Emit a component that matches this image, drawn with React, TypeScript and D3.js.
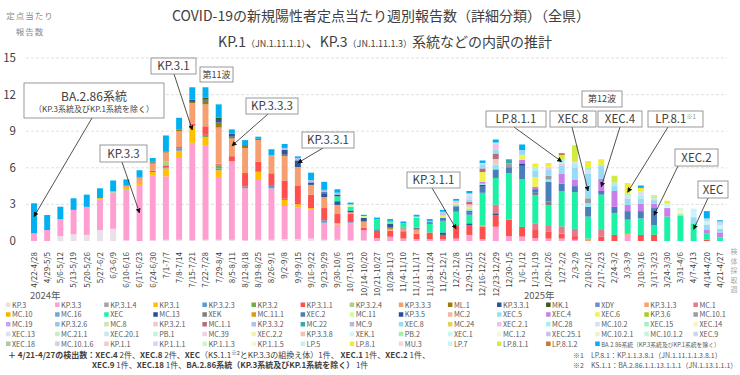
import React from 'react';
import * as d3 from 'd3';

const weeks = [
  '4/22-4/28','4/29-5/5','5/6-5/12','5/13-5/19','5/20-5/26','5/27-6/2','6/3-6/9','6/10-6/16','6/17-6/23','6/24-6/30',
  '7/1-7/7','7/8-7/14','7/15-7/21','7/22-7/28','7/29-8/4','8/5-8/11','8/12-8/18','8/19-8/25','8/26-9/1','9/2-9/8',
  '9/9-9/15','9/16-9/22','9/23-9/29','9/30-10/6','10/7-10/13','10/14-10/20','10/21-10/27','10/28-11/3','11/4-11/10','11/11-11/17',
  '11/18-11/24','11/25-12/1','12/2-12/8','12/9-12/15','12/16-12/22','12/23-12/29','12/30-1/5','1/6-1/12','1/13-1/19','1/20-1/26',
  '1/27-2/2','2/3-2/9','2/10-2/16','2/17-2/23','2/24-3/2','3/3-3/9','3/10-3/16','3/17-3/23','3/24-3/30','3/31-4/6',
  '4/7-4/13','4/14-4/20','4/21-4/27'
];

const seriesNames = [
  'KP.3','KP.3.3','KP.3.1.4','KP.3.1','KP.3.2.3','KP.3.2','KP.3.1.1','KP.3.2.4','KP.3.3.3','ML.1','KP.3.3.1','MK.1','XDY','KP.3.1.3','MC.1',
  'MC.10','MC.16','XEC','MC.13','XEK','MC.11.1','XEC.2','MC.11','KP.3.5','MC.2','XEC.5','XEC.4','XEC.6','KP.3.6','MC.10.1',
  'MC.19','KP.3.2.6','MC.8','KP.3.2.1','MC.1.1','KP.3.3.2','MC.22','MC.9','XEC.8','MC.24','XEC.2.1','MC.28','MC.10.2','XEC.15','XEC.14',
  'XEC.13','MC.21.1','XEC.20.1','PB.1','MC.39','XEC.2.2','KP.3.3.8','XEK.1','PB.2','XEC.1','MC.1.2','XEC.25.1','MC.10.2.1','MC.10.1.2','XEC.9',
  'XEC.18','MC.10.1.6','KP.1.1','KP.1.1.1','KP.1.1.3','KP.1.1.5','LP.5','LP.8.1','MU.3','LP.7','LP.8.1.1','LP.8.1.2','BA.2.86系統（KP.3系統及びKP.1系統を除く）'
];

const seriesColors = [
  '#E9E0E8','#FF9FD1','#A5A5A5','#FFC000','#5B9BD5','#70AD47','#FF4F4F','#A9D18E','#F6A072','#9C7A0C','#2E5597','#3A5A1E','#6E8FD0','#F8A070','#E57A8C',
  '#F2B800','#6FA7DC','#1CF2A6','#27508F','#7F7F7F','#D4A10A','#4A7EBB','#CCFF99','#2B4C9E','#F1B7A0','#8DE6F6','#C97FEA','#F2F24C','#A6CE1E','#9C9C9C',
  '#C5A5EE','#9DC3E6','#C8E6B9','#F4C8C2','#B46E7E','#A7C3F0','#35A9B1','#B3B9DF','#98DBF6','#E6D05A','#F0C3E4','#A9EFF0','#D7DFF0','#A6F0C6','#F6F6BF',
  '#DCE3EE','#C6EFBF','#C7E6F7','#C3F3DE','#F6CDE6','#F1F1B3','#F3C1B1','#D1F7F8','#A9EFA2','#C8F7F7','#F7F7DA','#C8C1F0','#F7EFC9','#C1F6E0','#C9D7F0',
  '#AFC6A6','#D1D1E6','#F6C8D0','#DFD0F0','#D0F4D0','#F7F7D2','#C7EFF7','#EEEE38','#F6D6D6','#C8F3FA','#D3EB3E','#C57733','#00B0F0'
];

const yTicks = [0, 3, 6, 9, 12, 15];

// weekly values per lineage (定点当たり)
const KP_3 = [0,0,0.4,0.55,0.5,0.9,1.0,0.05,0,0.05, 0.1,0.1,0.05,0.1,0.1,0.1,0.05,0.1,0.1,0.15, 0.16,0.2,0.1,0.1,0.05,0.05,0,0,0,0, 0,0,0,0,0,0,0,0,0,0, 0,0,0,0,0,0,0,0,0,0, 0,0,0];
const KP_3_3 = [0.63,0.9,1.38,2.0,2.3,2.52,2.96,4.1,4.55,5.35, 5.2,6.7,8.0,7.7,5.15,6.45,4.27,4.9,4.22,2.72, 2.6,2.4,1.4,1.26,1.45,0.85,0.22,0.35,0.2,0.15, 0.15,0.15,0.2,0.5,0.15,1.17,0.4,0.36,0.22,0.2, 0.2,0.1,0,0,0,0.5,0,0,0,0, 0,0,0];
const KP_3_1_4 = [0,0,0,0,0,0,0,0.08,0.05,0, 0,0,0,0,0,0,0,0,0,0, 0,0,0,0,0,0,0,0,0,0, 0,0,0,0,0,0,0,0,0,0, 0,0,0,0,0,0,0,0,0,0, 0,0,0];
const KP_3_1 = [0,0,0,0,0,0.1,0,0.12,0.2,0.25, 0.65,0.6,1.35,0.7,0.55,0,0,0.68,0,0.49, 0.25,0.1,0,0.1,0,0,0,0,0,0, 0,0,0,0,0,0,0,0,0,0, 0,0,0,0,0,0,0,0,0,0, 0,0,0];
const KP_3_2_3 = [0,0,0,0,0,0,0,0,0,0, 0.1,0.2,0.1,0,0.15,0,0.15,0,0.27,0, 0,0,0.2,0,0.05,0,0,0,0,0, 0,0,0,0,0,0,0,0,0,0, 0,0,0,0,0,0,0,0,0,0, 0,0,0];
const KP_3_2 = [0,0,0,0,0,0,0,0.05,0,0, 0,0,0,0.2,0.25,0,0,0,0,0.1, 0,0,0,0,0,0,0,0,0,0, 0,0,0,0,0,0,0,0,0,0, 0,0,0,0,0,0,0,0,0,0, 0,0,0];
const KP_3_1_1 = [0,0,0,0,0,0,0,0,0.05,0.1, 0.15,0.1,0.1,0.7,0.1,0.4,1.1,0.82,0.96,1.5, 1.55,1.1,1.0,0.75,0.7,0.2,0.55,0.5,0.6,0.45, 0.55,0.35,1.1,0.8,1.0,0.95,1.35,0.8,0.68,0.55, 0.4,0.3,0,0.35,0.5,0,0.5,0.5,0,0, 0,0.1,0];
const KP_3_2_4 = [0,0,0,0,0,0,0.1,0,0,0, 0.3,0,0,0,0.05,0,0,0,0,0, 0,0,0,0,0,0,0,0,0,0, 0,0,0,0,0,0,0,0,0,0, 0,0,0,0,0,0,0,0,0,0, 0,0,0];
const KP_3_3_3 = [0,0,0,0,0,0,0,0.1,0.35,0.6, 0.75,1.3,1.7,1.8,2.95,1.45,2.05,1.78,1.5,2.0, 1.5,0.8,0.9,0.75,0.1,0.5,0,0.15,0.15,0.35, 0,0,0,0,0,0,0,0,0,0, 0,0,0,0,0,0,0,0,0,0, 0,0,0];
const ML_1 = [0,0,0,0,0,0,0,0.05,0.05,0.1, 0.1,0.15,0.1,0.3,0.4,0.15,0.25,0.1,0,0.12, 0,0,0,0,0,0,0,0.1,0,0, 0,0,0,0,0,0,0,0,0,0, 0,0,0,0,0,0,0,0,0,0, 0,0,0];
const KP_3_3_1 = [0,0,0,0,0,0,0,0,0,0.05, 0,0,0.2,0.1,0.3,0.25,0,0,0,0.4, 0.55,0.2,0.3,0.3,0.15,0.3,0.1,0.3,0,0.1, 0,0.2,0,0.15,0,0.15,0,0,0,0, 0,0,0,0,0,0,0,0,0,0, 0,0,0];
const MK_1 = [0,0,0,0,0,0,0,0,0,0, 0,0,0,0.15,0.1,0,0,0,0,0, 0,0,0,0,0,0,0,0,0,0, 0,0,0,0,0,0,0,0,0,0, 0,0,0,0,0,0,0,0,0,0, 0,0,0];
const XDY = [0,0,0,0,0,0,0,0,0,0, 0,0,0,0,0,0,0,0,0,0, 0,0,0,0,0,0,0.1,0,0.1,0, 0,0,0,0,0,0,0,0,0,0, 0,0,0,0,0,0,0,0,0,0, 0,0,0];
const KP_3_1_3 = [0,0,0,0,0,0,0,0,0,0, 0,0,0,0,0,0,0,0,0,0, 0,0,0,0,0,0,0,0,0,0.1, 0,0,0,0,0.1,0,0,0,0,0, 0,0,0.2,0,0,0.15,0,0,0,0, 0,0,0];
const MC_1 = [0,0,0,0,0,0,0,0,0,0, 0,0,0,0,0,0,0,0,0,0, 0,0,0,0,0,0,0,0,0,0, 0,0,0,0,0,0.7,0,0,0.55,0.55, 0.6,0.6,0,0.55,0,0,0,0,0,0, 0,0,0];
const MC_10 = [0,0,0,0,0,0,0,0,0,0, 0,0,0,0,0,0,0,0,0,0, 0,0,0,0,0,0,0,0.1,0.1,0, 0,0,0,0,0,0,0,0,0,0, 0,0,0,0,0,0,0,0,0,0, 0,0,0];
const XEC = [0,0,0,0,0,0,0,0,0,0, 0,0,0,0,0,0,0,0,0,0, 0,0,0,0.4,0.3,0,0.8,0.15,0.3,0.75, 0.7,0.95,1.1,0.7,2.7,2.2,3.8,3.9,2.3,1.64, 2.9,3.0,1.8,2.9,1.8,1.1,1.35,0.8,2.0,2.1, 1.45,0.5,0.3];
const MC_13 = [0,0,0,0,0,0,0,0,0,0, 0,0,0,0,0,0,0,0,0,0, 0,0,0,0,0,0,0,0,0,0, 0.05,0,0,0,0,0,0,0,0,0, 0,0,0,0,0,0,0,0,0,0, 0,0,0];
const XEK = [0,0,0,0,0,0,0,0,0,0, 0,0,0,0,0,0,0,0,0,0, 0,0,0,0,0,0,0,0,0,0, 0,0,0,0,0,0,0,0,0.2,0.3, 0,0,0,0,0,0,0,0,0,0, 0,0,0];
const XEC_2 = [0,0,0,0,0,0,0,0,0,0, 0,0,0,0,0,0,0,0,0,0, 0,0,0,0,0,0,0,0,0,0, 0.1,0.25,0.45,0.2,0.5,0.7,0.5,1.1,0.3,1.6, 0.6,0.5,0.8,0.3,0.5,0.7,0.6,1.4,0,0, 0,0,0];
const MC_11 = [0,0,0,0,0,0,0,0,0,0, 0,0,0,0,0,0,0,0,0,0, 0,0,0,0,0.2,0.15,0,0,0,0, 0,0,0,0,0,0,0,0,0,0, 0,0,0,0,0,0,0,0,0,0, 0,0,0];
const KP_3_5 = [0,0,0,0,0,0,0,0,0,0, 0,0,0,0,0,0,0,0,0,0, 0,0,0.1,0.15,0,0,0,0,0,0, 0,0,0,0.1,0.15,0,0,0.2,0,0, 0,0,0,0,0,0,0,0,0,0, 0,0,0];
const XEC_5 = [0,0,0,0,0,0,0,0,0,0, 0,0,0,0,0,0,0,0,0,0, 0,0,0,0,0,0,0,0,0,0, 0,0,0.15,0.2,0.1,0.4,0,0,0,0.2, 0,0,0.3,0,0,0,0,0,0,0, 0,0,0];
const XEC_4 = [0,0,0,0,0,0,0,0,0,0, 0,0,0,0,0,0,0,0,0,0, 0,0,0,0,0,0,0,0,0,0, 0,0,0,0,0.15,0,0,0.3,0.2,0, 0.8,0.5,0,1.0,1.3,0.5,0.6,0.35,0.7,0, 0,0.3,0.4];
const XEC_6 = [0,0,0,0,0,0,0,0,0,0, 0,0,0,0,0,0,0,0,0,0, 0,0,0,0,0,0,0,0,0,0, 0,0.2,0.1,0.15,0.8,0,0,0.4,0.8,0, 0,0,0,0,0,0,0,0,0,0, 0,0,0];
const MC_10_1 = [0,0,0,0,0,0,0,0,0,0, 0,0,0,0,0,0,0,0,0,0, 0,0,0,0,0,0,0,0,0,0, 0,0,0,0,0,0,0.3,0,0,0.3, 0,0,0.4,0,0,0,0,0,0,0, 0,0,0];
const MC_19 = [0,0,0,0,0,0,0,0,0,0, 0,0,0,0,0,0,0,0,0,0, 0,0,0,0,0,0,0,0,0,0, 0.1,0.1,0,0,0,0,0,0,0,0, 0,0,0,0,0,0,0,0,0,0, 0,0,0];
const KP_3_2_1 = [0,0,0,0,0,0,0,0,0,0, 0,0,0,0,0,0,0,0,0,0, 0,0,0,0,0,0,0,0,0,0.1, 0,0,0.1,0.2,0,0.45,0,0,0,0, 0,0,0,0,0,0,0,0,0,0, 0,0,0];
const MC_1_1 = [0,0,0,0,0,0,0,0,0,0, 0,0,0,0,0,0,0,0,0,0, 0,0,0,0,0,0,0,0,0,0, 0,0,0,0.2,0.3,0.45,0,0,0,0, 0,0,0,0,0,0,0,0,0,0, 0,0,0];
const KP_3_3_2 = [0,0,0,0,0,0,0,0,0,0, 0,0,0,0,0,0,0,0,0,0.15, 0.2,0.2,0.15,0.15,0,0,0,0,0,0, 0,0,0,0,0,0,0,0,0,0, 0,0,0,0,0,0,0,0,0,0, 0,0,0];
const MC_22 = [0,0,0,0,0,0,0,0,0,0, 0,0,0,0,0,0,0,0,0,0, 0,0,0.1,0,0,0,0,0,0,0, 0,0,0,0,0,0,0.35,0,0,0, 0,0,0,0,0,0,0,0,0,0, 0,0,0];
const XEC_8 = [0,0,0,0,0,0,0,0,0,0, 0,0,0,0,0,0,0,0,0,0, 0,0,0,0,0,0,0,0,0,0, 0,0.2,0,0.2,0.35,0.3,0,0.4,0.5,0.5, 0.7,1.0,2.0,1.1,0.4,0.5,0.4,0.3,0,0, 0.5,0.45,0.3];
const XEC_2_1 = [0,0,0,0,0,0,0,0,0,0, 0,0,0,0,0,0,0,0,0,0, 0,0,0,0,0,0,0,0,0,0, 0,0,0.1,0.15,0,0.5,0,0,0,0.15, 0.15,0,0,0,0,0,0,0,0,0, 0,0,0];
const MC_28 = [0,0,0,0,0,0,0,0,0,0, 0,0,0,0,0,0,0,0,0,0, 0,0,0,0,0,0,0,0,0,0, 0,0,0,0.15,0,0.1,0,0,0.3,0.1, 0.3,0.3,0,0,0.3,0,0.3,0,0,0, 0,0,0];
const MC_10_2 = [0,0,0,0,0,0,0,0,0,0, 0,0,0,0,0,0,0,0,0,0, 0,0,0,0,0,0,0,0,0,0, 0,0,0,0,0,0,0,0,0,0, 0,0.2,0.3,0,0,0.3,0.3,0.15,0,0, 0,0,0];
const XEC_15 = [0,0,0,0,0,0,0,0,0,0, 0,0,0,0,0,0,0,0,0,0, 0,0,0,0,0,0,0,0,0,0, 0,0,0,0,0,0,0,0,0,0, 0,0,0.25,0,0,0.15,0,0.15,0,0.15, 0,0,0];
const XEC_14 = [0,0,0,0,0,0,0,0,0,0, 0,0,0,0,0,0,0,0,0,0, 0,0,0,0,0,0,0,0,0,0, 0,0,0,0,0,0,0,0,0,0, 0,0,0,0,0,0,0,0,0.1,0.3, 0,0,0];
const PB_1 = [0,0,0,0,0,0,0,0,0,0, 0,0,0,0,0,0,0,0,0,0, 0,0,0,0,0,0,0,0,0,0, 0,0,0,0.1,0,0,0,0,0,0, 0,0,0,0,0,0,0,0,0,0, 0,0,0];
const MC_39 = [0,0,0,0,0,0,0,0,0,0, 0,0,0,0,0,0,0,0,0,0, 0,0,0,0,0,0,0,0,0,0, 0,0,0,0.1,0.1,0,0,0,0,0, 0,0,0,0,0,0,0,0,0,0, 0,0,0];
const XEC_1 = [0,0,0,0,0,0,0,0,0,0, 0,0,0,0,0,0,0,0,0,0, 0,0,0,0,0,0,0,0,0,0, 0,0,0,0,0,0,0,0,0,0, 0,0,0,0,0,0,0,0,0.25,0.15, 0.4,0.3,0.3];
const XEC_9 = [0,0,0,0,0,0,0,0,0,0, 0,0,0,0,0,0,0,0,0,0, 0,0,0,0,0,0,0,0,0,0, 0,0,0,0,0,0,0,0,0,0, 0,0,0,0,0,0,0,0,0,0, 0,0.2,0.3];
const LP_7 = [0,0,0,0,0,0,0,0,0,0, 0,0,0,0,0,0,0,0,0,0, 0,0,0,0,0,0,0,0,0,0, 0,0,0,0,0,0,0,0,0,0, 0,0,0,0,0,0,0,0,0,0, 0.3,0,0];
const LP_8_1 = [0,0,0,0,0,0,0,0,0,0, 0,0,0,0,0,0,0,0,0,0, 0,0,0,0,0,0,0,0,0,0, 0,0,0,0,0,0,0,0,0.3,0.3, 0,0,0.5,0.5,0,0.85,0.3,0,0.25,0, 0,0,0];
const LP_8_1_1 = [0,0,0,0,0,0,0,0,0,0, 0,0,0,0,0,0,0,0,0,0, 0,0,0,0,0,0,0,0,0,0, 0,0,0,0,0,0,0,0,0,0, 0.4,1.35,0,0,0.55,0,0,0.1,0,0, 0,0,0];
const LP_8_1_2 = [0,0,0,0,0,0,0,0,0,0, 0,0,0,0,0,0,0,0,0,0, 0,0,0,0,0,0,0,0,0,0, 0,0,0,0,0,0,0,0,0,0, 0.15,0,0,0,0,0,0,0,0,0, 0,0,0];
const BA_2_86 = [2.46,1.23,1.03,0.95,1.0,0.8,0.9,0.5,0.55,0.3, 1.3,0.95,1.0,0.85,1.1,0.35,0.4,0.17,0.47,0.32, 0.13,0.6,0.6,0.28,0.15,0.1,0.15,0.15,0.15,0.15, 0.15,0.15,0.15,0.2,0.2,0.25,0,0.45,0,0, 0,0,0,0,0,0,0.2,0,0,0, 0,0.6,0.1];

const seriesValues: Record<string, number[]> = {
  'KP.3': KP_3, 'KP.3.3': KP_3_3, 'KP.3.1.4': KP_3_1_4, 'KP.3.1': KP_3_1, 'KP.3.2.3': KP_3_2_3, 'KP.3.2': KP_3_2,
  'KP.3.1.1': KP_3_1_1, 'KP.3.2.4': KP_3_2_4, 'KP.3.3.3': KP_3_3_3, 'ML.1': ML_1, 'KP.3.3.1': KP_3_3_1, 'MK.1': MK_1,
  'XDY': XDY, 'KP.3.1.3': KP_3_1_3, 'MC.1': MC_1, 'MC.10': MC_10, 'XEC': XEC, 'MC.13': MC_13, 'XEK': XEK,
  'XEC.2': XEC_2, 'MC.11': MC_11, 'KP.3.5': KP_3_5, 'XEC.5': XEC_5, 'XEC.4': XEC_4, 'XEC.6': XEC_6, 'MC.10.1': MC_10_1,
  'MC.19': MC_19, 'KP.3.2.1': KP_3_2_1, 'MC.1.1': MC_1_1, 'KP.3.3.2': KP_3_3_2, 'MC.22': MC_22, 'XEC.8': XEC_8,
  'XEC.2.1': XEC_2_1, 'MC.28': MC_28, 'MC.10.2': MC_10_2, 'XEC.15': XEC_15, 'XEC.14': XEC_14, 'PB.1': PB_1,
  'MC.39': MC_39, 'XEC.1': XEC_1, 'XEC.9': XEC_9, 'LP.7': LP_7, 'LP.8.1': LP_8_1, 'LP.8.1.1': LP_8_1_1,
  'LP.8.1.2': LP_8_1_2, 'BA.2.86系統（KP.3系統及びKP.1系統を除く）': BA_2_86,
};

const FONT = "'Noto Sans CJK JP', 'Noto Sans', sans-serif";
const TXT = '#404040';

type Ann = { label: string; sup?: string; box: [number, number, number, number]; from?: [number, number]; week?: number; value?: number; size?: number };
const annotations: Ann[] = [
  { label: 'KP.3.3', box: [100, 145, 47, 17], from: [122, 162], week: 8, value: 2.3 },
  { label: 'KP.3.1', box: [151, 58, 45, 16], from: [174, 74], week: 12, value: 9.1 },
  { label: '第11波', box: [200, 67, 33, 15], size: 9 },
  { label: 'KP.3.3.3', box: [246, 98, 52, 16], from: [268, 114], week: 15, value: 7.8 },
  { label: 'KP.3.3.1', box: [302, 132, 52, 16], from: [323, 148], week: 20, value: 6.4 },
  { label: 'KP.3.1.1', box: [407, 172, 53, 16], from: [432, 188], week: 32, value: 1.0 },
  { label: '第12波', box: [582, 91, 40, 16], size: 9 },
  { label: 'LP.8.1.1', box: [486, 111, 60, 16], from: [514, 127], week: 40, value: 6.5 },
  { label: 'XEC.8', box: [550, 111, 46, 16], from: [572, 127], week: 42, value: 4.1 },
  { label: 'XEC.4', box: [598, 111, 44, 16], from: [620, 127], week: 43, value: 4.45 },
  { label: 'LP.8.1', sup: '※1', box: [648, 111, 55, 16], from: [668, 127], week: 45, value: 4.0 },
  { label: 'XEC.2', box: [675, 149, 43, 17], from: [678, 166], week: 47, value: 2.1 },
  { label: 'XEC', box: [698, 181, 30, 17], from: [708, 198], week: 50, value: 0.95 },
];

export default function App() {
  const x = d3.scaleBand<string>().domain(weeks).range([27.4, 726.6]).paddingInner(0.55).paddingOuter(0.275);
  const y = d3.scaleLinear().domain([0, 15]).range([241, 58]);
  const rows = weeks.map((w, i) => {
    const r: any = { week: w };
    seriesNames.forEach((n) => { r[n] = seriesValues[n] ? seriesValues[n][i] : 0; });
    return r;
  });
  const stacked = d3.stack<any>().keys(seriesNames)(rows);
  const bw = x.bandwidth();
  const cx = (i: number) => (x(weeks[i]) as number) + bw / 2;

  return (
    <svg width={740} height={375} style={{ position: 'absolute', left: 0, top: 0, background: '#fff' }} fontFamily={FONT}>
      <defs>
        <marker id="ah" viewBox="0 0 10 10" refX="9" refY="5" markerWidth="5" markerHeight="5" markerUnits="userSpaceOnUse" orient="auto">
          <path d="M0,0 L10,5 L0,10 z" fill="#111" />
        </marker>
      </defs>
      {/* titles */}
      <text x={381} y={21} textAnchor="middle" fontSize={14} fill={TXT}>COVID-19の新規陽性者定点当たり週別報告数（詳細分類）（全県）</text>
      <text x={385} y={47} textAnchor="middle" fontSize={14} fill={TXT}>
        <tspan>KP.1</tspan><tspan fontSize={9}>（JN.1.11.1.1）</tspan><tspan>、KP.3</tspan><tspan fontSize={9}>（JN.1.11.1.3）</tspan><tspan>系統などの内訳の推計</tspan>
      </text>
      <text x={30} y={19} textAnchor="middle" fontSize={8.5} fill="#8c8c8c" letterSpacing={1}>定点当たり</text>
      <text x={30} y={35} textAnchor="middle" fontSize={8.5} fill="#8c8c8c" letterSpacing={1}>報告数</text>

      {/* grid + y ticks */}
      {yTicks.map((t) => (
        <g key={t}>
          {t > 0 && <line x1={26} x2={727} y1={y(t)} y2={y(t)} stroke="#d9d9d9" strokeDasharray="3,2" strokeWidth={0.8} />}
          <text x={16} y={y(t) + 4} textAnchor="end" fontSize={11.5} fill={TXT}>{t}</text>
        </g>
      ))}

      {/* bars */}
      {stacked.map((layer, li) => (
        <g key={layer.key} fill={seriesColors[li]}>
          {layer.map((d, i) => (d[1] - d[0] > 0 ? (
            <rect key={i} x={x(weeks[i])} y={y(d[1])} width={bw} height={y(d[0]) - y(d[1])} />
          ) : null))}
        </g>
      ))}

      {/* x labels */}
      {weeks.map((w, i) => (
        <text key={w} transform={`translate(${cx(i)},252) rotate(-90)`} textAnchor="end" dy="0.35em" fontSize={8} fill={TXT}>{w}</text>
      ))}
      {'検体採取週'.split('').map((c, i) => (
        <text key={i} x={734} y={254 + i * 9.6} textAnchor="middle" fontSize={7} fill="#a6a6a6">{c}</text>
      ))}
      <text x={30} y={298.5} fontSize={9.5} fill="#595959">2024年</text>
      <text x={524} y={298.5} fontSize={9.5} fill="#595959">2025年</text>

      {/* annotations */}
      <g>
        <rect x={24} y={83} width={140} height={35} fill="#fff" stroke="#7f7f7f" strokeWidth={0.8} />
        <text x={94} y={101} textAnchor="middle" fontSize={12} fill={TXT}>BA.2.86系統</text>
        <text x={94} y={112} textAnchor="middle" fontSize={8} fill={TXT}>（KP.3系統及びKP.1系統を除く）</text>
        <line x1={92} y1={118} x2={cx(0)} y2={y(2.0)} stroke="#262626" strokeWidth={0.8} markerEnd="url(#ah)" />
      </g>
      {annotations.map((a) => (
        <g key={a.label}>
          {a.from && a.week !== undefined && (
            <line x1={a.from[0]} y1={a.from[1]} x2={cx(a.week)} y2={y(a.value as number)} stroke="#262626" strokeWidth={0.8} markerEnd="url(#ah)" />
          )}
          <rect x={a.box[0]} y={a.box[1]} width={a.box[2]} height={a.box[3]} fill="#fff" stroke="#7f7f7f" strokeWidth={0.8} />
          <text x={a.box[0] + a.box[2] / 2} y={a.box[1] + a.box[3] / 2} dy="0.36em" textAnchor="middle" fontSize={a.size || 11.5} fill={TXT}>
            {a.label}{a.sup && <tspan fontSize={6} dy={-4} fill="#8c8c8c">{a.sup}</tspan>}
          </text>
        </g>
      ))}

      {/* legend */}
      {seriesNames.map((n, k) => {
        const col = k % 15, row = Math.floor(k / 15);
        const lx = 6 + 49.1 * col, ly = 305 + 9.75 * row;
        const long = n.length > 12;
        return (
          <g key={n}>
            <rect x={lx} y={ly - 2.5} width={4.5} height={4.5} fill={seriesColors[k]} />
            <text x={lx + 6} y={ly + 2.6} fontSize={long ? 5.8 : 7.2} fill="#595959">{n}</text>
          </g>
        );
      })}

      {/* notes */}
      <text x={8} y={358} fontSize={8} fill={TXT}>
        <tspan fontWeight="bold">＋ 4/21-4/27の検出数：XEC.4</tspan><tspan> 2件、</tspan>
        <tspan fontWeight="bold">XEC.8</tspan><tspan> 2件、</tspan>
        <tspan fontWeight="bold">XEC</tspan><tspan>（KS.1.1</tspan><tspan fontSize={5.5} dy={-3}>※2</tspan><tspan dy={3}>とKP.3.3の組換え体）1件、 </tspan>
        <tspan fontWeight="bold">XEC.1</tspan><tspan> 1件、</tspan>
        <tspan fontWeight="bold">XEC.2</tspan><tspan> 1件、</tspan>
      </text>
      <text x={92} y={368} fontSize={8} fill={TXT}>
        <tspan fontWeight="bold">XEC.9</tspan><tspan> 1件、</tspan>
        <tspan fontWeight="bold">XEC.18</tspan><tspan> 1件、</tspan>
        <tspan fontWeight="bold">BA.2.86系統（KP.3系統及びKP.1系統を除く）</tspan><tspan> 1件</tspan>
      </text>
      <text x={573} y={358} fontSize={7} fill="#595959">※1　LP.8.1：KP.1.1.3.8.1（JN.1.11.1.1.3.8.1）</text>
      <text x={573} y={368} fontSize={7} fill="#595959">※2　KS.1.1：BA.2.86.1.1.13.1.1.1（JN.1.13.1.1.1）</text>
    </svg>
  );
}
